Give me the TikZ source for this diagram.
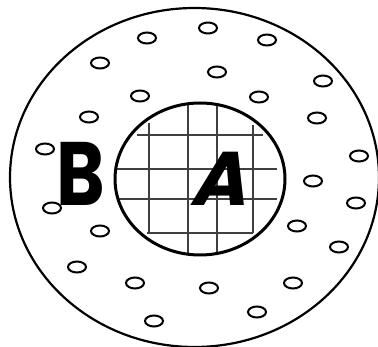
\documentclass[tikz,border=0pt]{standalone}
\usepackage{fontspec}
\newfontfamily\letterfont{Poppins}
\usetikzlibrary{shapes.geometric}

\begin{document}
\begin{tikzpicture}[
    x=1pt, y=-1pt,
    plate/.style={draw, ellipse, inner sep=0pt, line width=2.2pt},
    hole/.style={draw, ellipse, inner sep=0pt, minimum width=18pt, minimum height=11pt, line width=2pt},
    gridline/.style={draw=black!75, line width=1.5pt},
    letter/.style={font=\letterfont\bfseries\fontsize{84}{84}\selectfont, inner sep=0pt}
  ]
    \useasboundingbox (0,0) rectangle (378,347);
    % outer region B
    \node[plate, minimum width=369pt, minimum height=339pt] (outer) at (194.5,177.5) {};
    % inner region A with its grid
    \begin{scope}
      \clip (200,179) ellipse [x radius=85, y radius=76];
      \draw[gridline] (149,123) -- (149,233);
      \draw[gridline] (188,100) -- (188,260);
      \draw[gridline] (217,100) -- (217,260);
      \draw[gridline] (253,125) -- (253,233);
      \draw[gridline] (137,135) -- (263,135);
      \draw[gridline] (115,169) -- (277,169);
      \draw[gridline] (115,199) -- (277,199);
      \draw[gridline] (147,233) -- (253,233);
    \end{scope}
    \node[plate, line width=3pt, minimum width=170pt, minimum height=152pt] (inner) at (200,179) {};
    % small holes
    \foreach \x/\y [count=\i] in {208/28, 147/38, 267/40, 100/63, 217/72, 323/81,
        140/96, 259/97, 89/117, 317/118, 45/149, 359/156, 313/181, 52/208,
        356/203, 100/231, 297/226, 339/247, 77/267, 135/283, 209/288,
        293/283, 257/312, 154/321}
      \node[hole] (h\i) at (\x,\y) {};
    % labels
    \node[letter, font=\letterfont\bfseries\fontsize{90}{90}\selectfont, xscale=0.82, transform shape] (labB) at (81,174) {B};
    \node[letter, font=\letterfont\bfseries\fontsize{76}{76}\selectfont, xslant=0.25, transform shape] (labA) at (224,179) {A};
\end{tikzpicture}
\end{document}
